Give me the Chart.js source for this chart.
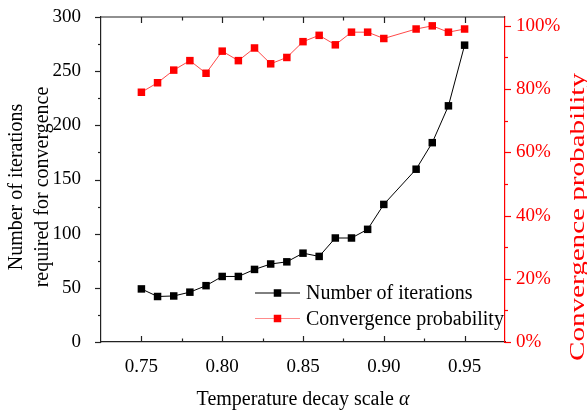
<!DOCTYPE html>
<html><head><meta charset="utf-8">
<script src="https://cdn.jsdelivr.net/npm/chart.js@4.4.0/dist/chart.umd.min.js"></script>
<style>html,body{margin:0;padding:0;background:#fff;overflow:hidden}#wrap{width:587px;height:410px}</style>
</head><body><div id="wrap"><canvas id="c" width="587" height="410"></canvas></div>
<script>
// ---- data ----
const alphas = [0.75,0.76,0.77,0.78,0.79,0.80,0.81,0.82,0.83,0.84,0.85,0.86,0.87,0.88,0.89,0.90,0.92,0.93,0.94,0.95];
const iterations = [49,42,42.5,46,52,60.5,60.5,67,72,74,82,79,96,96,104,127,159.5,184,218,274];
const probability = [79,82,86,89,85,92,89,93,88,90,95,97,94,98,98,96,99,100,98,99];
const xTicks = [0.75,0.80,0.85,0.90,0.95];
const xMinorTicks = [0.775,0.825,0.875,0.925];
const yTicks = [0,50,100,150,200,250,300];
const yMinorTicks = [25,75,125,175,225,275];
const pTicks = [0,20,40,60,80,100];
const pMinorTicks = [10,30,50,70,90];
const seriesNames = ['Number of iterations','Convergence probability'];
const xTitle = 'Temperature decay scale ';
const xTitleSymbol = 'α';
const yTitleLines = ['Number of iterations','required for convergence'];
const y1Title = 'Convergence probability';

const FONT = "'Liberation Serif','Times New Roman',serif";
const RED = '#ff0000';
const AXIS = '#222222';

Chart.defaults.font.family = FONT;
Chart.defaults.font.size = 19;
Chart.defaults.color = '#000';

const toPts = (xs, ys) => xs.map((x,i)=>({x, y: ys[i]}));

const decorPlugin = {
  id: 'decor',
  afterDraw(chart) {
    const {ctx, chartArea: a, scales} = chart;
    const sx = scales.x, sy = scales.y, sp = scales.y1;
    ctx.save();
    // top border
    ctx.strokeStyle = AXIS; ctx.lineWidth = 1.2;
    ctx.beginPath(); ctx.moveTo(a.left, a.top); ctx.lineTo(a.right, a.top); ctx.stroke();
    // x ticks (inward, bottom & top)
    const drawX = (vals, len) => vals.forEach(v => {
      const px = Math.round(sx.getPixelForValue(v)) + 0.5;
      ctx.beginPath();
      ctx.moveTo(px, a.bottom); ctx.lineTo(px, a.bottom - len);
      ctx.moveTo(px, a.top); ctx.lineTo(px, a.top + len);
      ctx.stroke();
    });
    drawX(xTicks, 6); drawX(xMinorTicks, 3.5);
    // y ticks (outward)
    const drawY = (scale, vals, len, x0, dir) => vals.forEach(v => {
      const py = Math.round(scale.getPixelForValue(v)) + 0.5;
      ctx.beginPath(); ctx.moveTo(x0, py); ctx.lineTo(x0 + dir*len, py); ctx.stroke();
    });
    ctx.strokeStyle = AXIS;
    drawY(sy, yTicks, 6, a.left, -1); drawY(sy, yMinorTicks, 3, a.left, -1);
    ctx.strokeStyle = RED;
    drawY(sp, pTicks, 6, a.right, 1); drawY(sp, pMinorTicks, 3, a.right, 1);

    // legend
    const ds = chart.data.datasets;
    const lx0 = a.left + 154, lx1 = a.left + 199, tx = a.left + 205;
    const rows = [a.bottom - 49, a.bottom - 23.5];
    ds.forEach((d, i) => {
      const y = rows[i];
      ctx.strokeStyle = d.legendLine; ctx.lineWidth = 1;
      ctx.beginPath(); ctx.moveTo(lx0, y); ctx.lineTo(lx1, y); ctx.stroke();
      ctx.fillStyle = d.pointBackgroundColor;
      const s = 7.5;
      ctx.fillRect((lx0+lx1)/2 - s/2, y - s/2, s, s);
      ctx.fillStyle = '#000';
      ctx.font = '20px ' + FONT;
      ctx.textBaseline = 'middle'; ctx.textAlign = 'left';
      ctx.fillText(d.label, tx, y + 1);
    });

    // x title
    ctx.fillStyle = '#000';
    ctx.textBaseline = 'middle';
    ctx.font = '20px ' + FONT;
    const w1 = ctx.measureText(xTitle).width;
    ctx.font = 'italic 20px ' + FONT;
    const w2 = ctx.measureText(xTitleSymbol).width;
    const cx = (a.left + a.right) / 2;
    const sxp = cx - (w1 + w2) / 2;
    ctx.textAlign = 'left';
    ctx.font = '20px ' + FONT;
    ctx.fillText(xTitle, sxp, 400);
    ctx.font = 'italic 20px ' + FONT;
    ctx.fillText(xTitleSymbol, sxp + w1, 400);

    // left title (two lines, rotated)
    ctx.save();
    ctx.translate(0, 187);
    ctx.rotate(-Math.PI/2);
    ctx.textAlign = 'center';
    ctx.textBaseline = 'middle';
    ctx.font = '20px ' + FONT;
    ctx.fillText(yTitleLines[0], 0, 17);
    ctx.fillText(yTitleLines[1], 0, 43);
    ctx.restore();

    // right title (rotated, stretched to the reference length)
    ctx.save();
    ctx.fillStyle = RED;
    ctx.font = '21px ' + FONT;
    ctx.textAlign = 'center';
    ctx.textBaseline = 'middle';
    const tw = ctx.measureText(y1Title).width;
    ctx.translate(578, 217);
    ctx.rotate(-Math.PI/2);
    ctx.scale(288 / tw, 1);
    ctx.fillText(y1Title, 0, 0);
    ctx.restore();

    ctx.restore();
  }
};

const noPadV = s => { s.paddingTop = 0; s.paddingBottom = 0; };

new Chart(document.getElementById('c'), {
  type: 'line',
  data: {
    datasets: [
      {
        label: seriesNames[0],
        data: toPts(alphas, iterations),
        yAxisID: 'y',
        borderColor: '#000', borderWidth: 1,
        pointStyle: 'rect', pointRadius: 5.3, pointBorderWidth: 0,
        pointBackgroundColor: '#000', pointBorderColor: '#000',
        legendLine: '#000',
        tension: 0
      },
      {
        label: seriesNames[1],
        data: toPts(alphas, probability),
        yAxisID: 'y1',
        borderColor: 'rgba(255,40,40,0.85)', borderWidth: 1,
        pointStyle: 'rect', pointRadius: 5.3, pointBorderWidth: 0,
        pointBackgroundColor: RED, pointBorderColor: RED,
        legendLine: 'rgba(255,90,90,0.7)',
        tension: 0
      }
    ]
  },
  options: {
    responsive: false, animation: false, devicePixelRatio: 1,
    layout: {padding: {top: 17, left: 0, right: 0, bottom: 0}},
    plugins: {legend: {display: false}, tooltip: {enabled: false}},
    scales: {
      x: {
        type: 'linear', position: 'bottom', min: 0.725, max: 0.975,
        afterBuildTicks: s => { s.ticks = xTicks.map(v => ({value: v})); },
        afterFit: s => { s.height = 68; s.paddingLeft = 0; s.paddingRight = 0; },
        grid: {display: false, drawTicks: false},
        border: {display: true, color: AXIS, width: 1.2},
        ticks: {padding: 14, color: '#000', font: {size: 19}, maxRotation: 0,
          callback: v => Number(v).toFixed(2)}
      },
      y: {
        type: 'linear', position: 'left', min: 0, max: 300,
        afterBuildTicks: s => { s.ticks = yTicks.map(v => ({value: v})); },
        afterFit: s => { s.width = 101; noPadV(s); },
        grid: {display: false, drawTicks: false},
        border: {display: true, color: AXIS, width: 1.2},
        ticks: {padding: 20, color: '#000', font: {size: 19}}
      },
      y1: {
        type: 'linear', position: 'right', min: 0, max: 102.8,
        afterBuildTicks: s => { s.ticks = pTicks.map(v => ({value: v})); },
        afterFit: s => { s.width = 82; noPadV(s); },
        grid: {display: false, drawTicks: false},
        border: {display: true, color: RED, width: 1.2},
        ticks: {padding: 11, color: RED, font: {size: 19}, callback: v => v + '%'}
      }
    }
  },
  plugins: [decorPlugin]
});
</script>
</body></html>
